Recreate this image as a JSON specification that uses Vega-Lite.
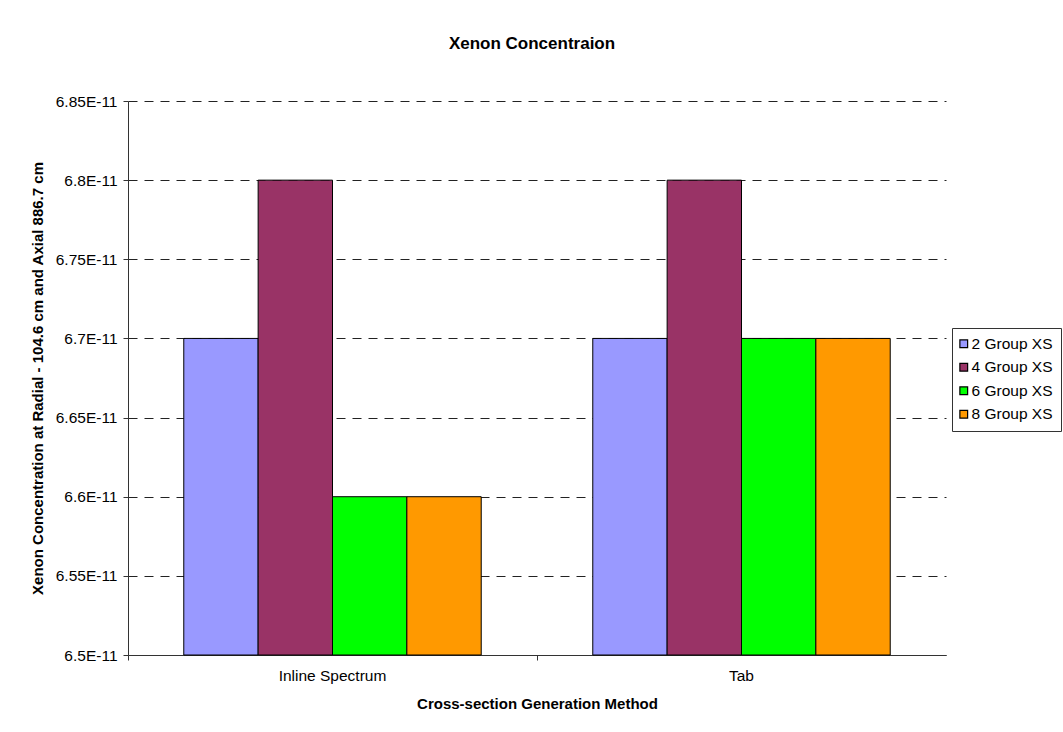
{
  "$schema": "https://vega.github.io/schema/vega-lite/v6.json",
  "width": 818,
  "height": 554,
  "autosize": {"type": "none"},
  "padding": {"left": 128, "top": 101, "right": 117, "bottom": 77},
  "background": "white",
  "title": {
    "text": "Xenon Concentraion",
    "font": "Liberation Sans",
    "fontSize": 17,
    "fontWeight": "bold",
    "color": "black",
    "anchor": "middle",
    "offset": 41,
    "dx": -5
  },
  "data": {
    "values": [
      {"method": "Inline Spectrum", "series": "2 Group XS", "value": 6.7e-11},
      {"method": "Inline Spectrum", "series": "4 Group XS", "value": 6.8e-11},
      {"method": "Inline Spectrum", "series": "6 Group XS", "value": 6.6e-11},
      {"method": "Inline Spectrum", "series": "8 Group XS", "value": 6.6e-11},
      {"method": "Tab", "series": "2 Group XS", "value": 6.7e-11},
      {"method": "Tab", "series": "4 Group XS", "value": 6.8e-11},
      {"method": "Tab", "series": "6 Group XS", "value": 6.7e-11},
      {"method": "Tab", "series": "8 Group XS", "value": 6.7e-11}
    ]
  },
  "mark": {"type": "bar", "stroke": "black", "strokeWidth": 1},
  "encoding": {
    "x": {
      "field": "method",
      "type": "nominal",
      "title": "Cross-section Generation Method",
      "scale": {"paddingInner": 0, "paddingOuter": 0},
      "axis": {
        "labelAngle": 0,
        "bandPosition": 0,
        "ticks": true,
        "tickSize": 5,
        "tickColor": "#333",
        "domainColor": "#333",
        "labelPadding": 8,
        "titlePadding": 13
      }
    },
    "xOffset": {
      "field": "series",
      "type": "nominal",
      "scale": {"paddingInner": 0, "paddingOuter": 0.75}
    },
    "y": {
      "field": "value",
      "type": "quantitative",
      "title": "Xenon Concentration at Radial - 104.6 cm and Axial 886.7 cm",
      "scale": {"domain": [6.5e-11, 6.85e-11], "zero": false, "nice": false},
      "axis": {
        "values": [6.5e-11, 6.55e-11, 6.6e-11, 6.65e-11, 6.7e-11, 6.75e-11, 6.8e-11, 6.85e-11],
        "labelExpr": "upper(format(datum.value, '.3~e'))",
        "grid": true,
        "gridColor": "#222",
        "gridDash": [9, 7],
        "gridWidth": 1,
        "tickSize": 5,
        "tickColor": "#333",
        "domainColor": "#333",
        "labelPadding": 6,
        "titlePadding": 10
      }
    },
    "y2": {"datum": 6.5e-11},
    "color": {
      "field": "series",
      "type": "nominal",
      "scale": {
        "domain": ["2 Group XS", "4 Group XS", "6 Group XS", "8 Group XS"],
        "range": ["#9999FF", "#993366", "#00FF00", "#FF9900"]
      },
      "legend": {
        "title": null,
        "orient": "none",
        "legendX": 824,
        "legendY": 227,
        "strokeColor": "#333",
        "fillColor": "white",
        "padding": 8,
        "symbolType": "square",
        "symbolSize": 60,
        "symbolOffset": -4,
        "symbolStrokeColor": "black",
        "symbolStrokeWidth": 1.2,
        "symbolOpacity": 1,
        "labelFontSize": 15.5,
        "labelFont": "Liberation Sans",
        "labelColor": "black",
        "rowPadding": 6.5,
        "labelOffset": 0
      }
    }
  },
  "config": {
    "view": {"stroke": null},
    "font": "Liberation Sans",
    "axis": {
      "labelFont": "Liberation Sans",
      "labelFontSize": 15.5,
      "labelColor": "black",
      "titleFont": "Liberation Sans",
      "titleFontSize": 15,
      "titleFontWeight": "bold",
      "titleColor": "black",
      "domainWidth": 1,
      "tickWidth": 1
    }
  }
}
